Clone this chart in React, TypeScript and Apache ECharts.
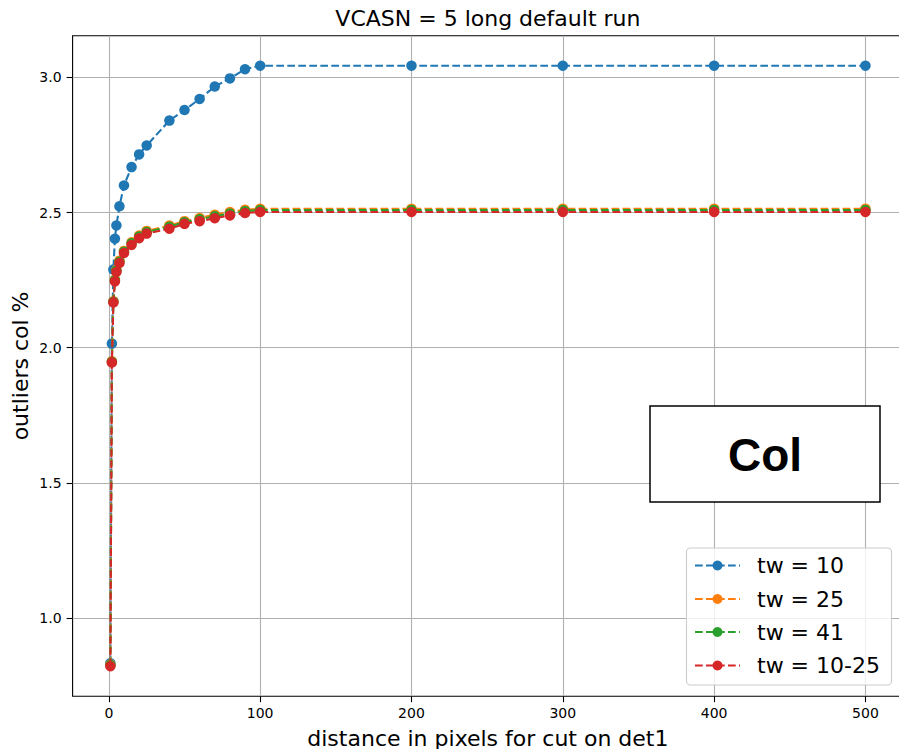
import React, { useEffect, useRef } from "react";
import * as echarts from "echarts";

// distance cut values (pixels on det1)
const distances = [1, 2, 3, 4, 5, 7, 10, 15, 20, 25, 40, 50, 60, 70, 80, 90, 100, 200, 300, 400, 500];

// outliers col % for each time window setting
const tw10 = [0.833, 2.015, 2.289, 2.403, 2.452, 2.523, 2.6, 2.668, 2.715, 2.748, 2.84, 2.879, 2.92, 2.966, 2.996, 3.03, 3.043, 3.043, 3.043, 3.043, 3.043];
const tw25 = [0.828, 1.95, 2.172, 2.252, 2.288, 2.322, 2.358, 2.39, 2.415, 2.432, 2.452, 2.468, 2.48, 2.492, 2.502, 2.51, 2.514, 2.514, 2.514, 2.514, 2.514];
const tw41 = [0.826, 1.948, 2.17, 2.249, 2.285, 2.318, 2.355, 2.386, 2.411, 2.428, 2.447, 2.464, 2.475, 2.486, 2.496, 2.505, 2.509, 2.509, 2.509, 2.509, 2.509];
const tw10to25 = [0.822, 1.945, 2.167, 2.245, 2.28, 2.313, 2.35, 2.38, 2.405, 2.422, 2.44, 2.458, 2.468, 2.479, 2.489, 2.498, 2.502, 2.502, 2.502, 2.502, 2.502];

const seriesNames = ["tw = 10", "tw = 25", "tw = 41", "tw = 10-25"];
const seriesValues = [tw10, tw25, tw41, tw10to25];
const seriesColors = ["#1f77b4", "#ff7f0e", "#2ca02c", "#d62728"];

const xTicks = [0, 100, 200, 300, 400, 500];
const yTicks = [1.0, 1.5, 2.0, 2.5, 3.0];

const titleText = "VCASN = 5 long default run";
const xLabel = "distance in pixels for cut on det1";
const yLabel = "outliers col %";
const boxText = "Col";

const FONT = "DejaVu Sans";
const DASH = [7.7, 3.3];

export default function App() {
  const ref = useRef<HTMLDivElement>(null);

  useEffect(() => {
    if (!ref.current) return;
    const chart = echarts.init(ref.current, null, { renderer: "svg" });

    const gridLeft = 72.6;
    const gridTop = 35.7;
    const gridWidth = 830.6;
    const gridHeight = 696.2 - 35.7;
    const plotCenterX = gridLeft + gridWidth / 2;
    const plotCenterY = gridTop + gridHeight / 2;

    const legendX = 686.5;
    const legendY = 548;
    const rowY = [565.5, 599, 632, 665.5];

    const legendGraphics: any[] = [
      {
        type: "rect",
        shape: { x: legendX, y: legendY, width: 205, height: 137, r: 4 },
        style: { fill: "rgba(255,255,255,0.8)", stroke: "#cccccc", lineWidth: 1.1 },
        z: 100,
      },
    ];
    seriesNames.forEach((name, i) => {
      legendGraphics.push({
        type: "line",
        shape: { x1: 695, y1: rowY[i], x2: 740, y2: rowY[i] },
        style: { stroke: seriesColors[i], lineWidth: 2.1, lineDash: DASH },
        z: 101,
      });
      legendGraphics.push({
        type: "circle",
        shape: { cx: 717.5, cy: rowY[i], r: 5 },
        style: { fill: seriesColors[i] },
        z: 102,
      });
      legendGraphics.push({
        type: "text",
        x: 757,
        y: rowY[i],
        style: {
          text: name,
          fontFamily: FONT,
          fontSize: 22,
          fill: "#000",
          textAlign: "left",
          textVerticalAlign: "middle",
        },
        z: 102,
      });
    });

    const option: any = {
      animation: false,
      backgroundColor: "#ffffff",
      grid: {
        left: gridLeft,
        top: gridTop,
        width: gridWidth,
        height: gridHeight,
        outerBoundsMode: "none",
        containLabel: false,
        show: true,
        borderColor: "#000",
        borderWidth: 1.1,
        backgroundColor: "transparent",
      },
      xAxis: {
        type: "value",
        min: -23.95,
        max: 524.95,
        axisLine: { show: false, onZero: false },
        axisTick: {
          show: true,
          length: 6,
          lineStyle: { color: "#000", width: 1.1 },
          customValues: xTicks,
        },
        axisLabel: {
          customValues: xTicks,
          margin: 10,
          fontFamily: FONT,
          fontSize: 14,
          color: "#000",
          formatter: (v: number) => String(v),
        },
        splitLine: { show: true, lineStyle: { color: "#b0b0b0", width: 1.1 } },
      },
      yAxis: {
        type: "value",
        min: 0.711,
        max: 3.154,
        axisLine: { show: false, onZero: false },
        axisTick: {
          show: true,
          length: 6,
          lineStyle: { color: "#000", width: 1.1 },
          customValues: yTicks,
        },
        axisLabel: {
          customValues: yTicks,
          margin: 11,
          fontFamily: FONT,
          fontSize: 14,
          color: "#000",
          formatter: (v: number) => v.toFixed(1),
        },
        splitLine: { show: true, lineStyle: { color: "#b0b0b0", width: 1.1 } },
      },
      series: seriesNames.map((name, i) => ({
        name,
        type: "line",
        data: distances.map((d, j) => [d, seriesValues[i][j]]),
        symbol: "circle",
        symbolSize: 10.5,
        showSymbol: true,
        showAllSymbol: true,
        itemStyle: { color: seriesColors[i] },
        lineStyle: { color: seriesColors[i], width: 2.1, type: DASH },
        z: 2 + i,
      })),
      graphic: [
        {
          type: "text",
          x: plotCenterX,
          y: 18,
          style: {
            text: titleText,
            fontFamily: FONT,
            fontSize: 22,
            fill: "#000",
            textAlign: "center",
            textVerticalAlign: "middle",
          },
        },
        {
          type: "text",
          x: plotCenterX,
          y: 738,
          style: {
            text: xLabel,
            fontFamily: FONT,
            fontSize: 22,
            fill: "#000",
            textAlign: "center",
            textVerticalAlign: "middle",
          },
        },
        {
          type: "text",
          x: 20,
          y: plotCenterY,
          rotation: Math.PI / 2,
          style: {
            text: yLabel,
            fontFamily: FONT,
            fontSize: 22,
            fill: "#000",
            textAlign: "center",
            textVerticalAlign: "middle",
          },
        },
        {
          type: "rect",
          shape: { x: 650, y: 406, width: 230, height: 96 },
          style: { fill: "#fff", stroke: "#000", lineWidth: 1.5 },
          z: 100,
        },
        {
          type: "text",
          x: 765,
          y: 455,
          style: {
            text: boxText,
            fontFamily: "Liberation Sans",
            fontWeight: "bold",
            fontSize: 46,
            fill: "#000",
            textAlign: "center",
            textVerticalAlign: "middle",
          },
          z: 101,
        },
        ...legendGraphics,
      ],
    };

    chart.setOption(option);
    return () => chart.dispose();
  }, []);

  return (
    <div
      ref={ref}
      style={{ position: "fixed", left: 0, top: 0, width: 899, height: 749, background: "#fff" }}
    />
  );
}
